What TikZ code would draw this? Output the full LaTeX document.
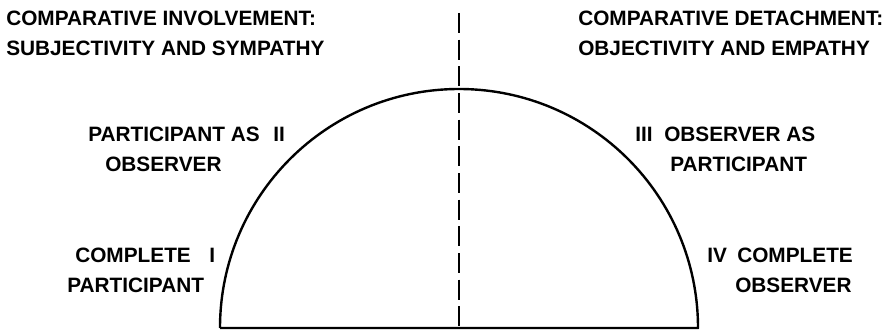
\documentclass[tikz,border=0pt]{standalone}
\usepackage{fontspec}
\setmainfont{Liberation Sans}
\usetikzlibrary{positioning}

\begin{document}
\begin{tikzpicture}[
  x=0.75pt,y=0.75pt,
  lbl/.style={font=\bfseries\fontsize{15.6}{18}\selectfont,inner sep=0pt,anchor=base west},
  rim/.style={line width=1.8pt,line join=round},
  divide/.style={line width=1.6pt,dash pattern=on 15pt off 5pt},
]
\useasboundingbox (0,0) rectangle (892,333);
% half circle and the dividing line
\coordinate (o) at (459,5);
\coordinate (w) at (220,5);
\coordinate (e) at (698,5);
\coordinate (top) at (459,320);
\draw[rim] (w) arc[start angle=180,end angle=0,radius=239] -- (w);
\draw[divide] (top) -- (o);
% headings
\node[lbl] (invA) at (6,308) {COMPARATIVE INVOLVEMENT:};
\node[lbl] (invB) at (6,278) {SUBJECTIVITY AND SYMPATHY};
\node[lbl] (detA) at (578,308) {COMPARATIVE DETACHMENT:};
\node[lbl] (detB) at (578,278) {OBJECTIVITY AND EMPATHY};
% roles, left side
\node[lbl] (pA) at (88,192) {PARTICIPANT AS};
\node[lbl] (nII) at (273,192) {II};
\node[lbl] (pB) at (105,162) {OBSERVER};
\node[lbl] (cA) at (75,71) {COMPLETE};
\node[lbl] (nI) at (209,71) {I};
\node[lbl] (cB) at (67,41) {PARTICIPANT};
% roles, right side
\node[lbl] (nIII) at (635,192) {III};
\node[lbl] (oA) at (664,192) {OBSERVER AS};
\node[lbl] (oB) at (670,162) {PARTICIPANT};
\node[lbl] (nIV) at (707,71) {IV};
\node[lbl] (coA) at (737,71) {COMPLETE};
\node[lbl] (coB) at (735,41) {OBSERVER};
\end{tikzpicture}
\end{document}
